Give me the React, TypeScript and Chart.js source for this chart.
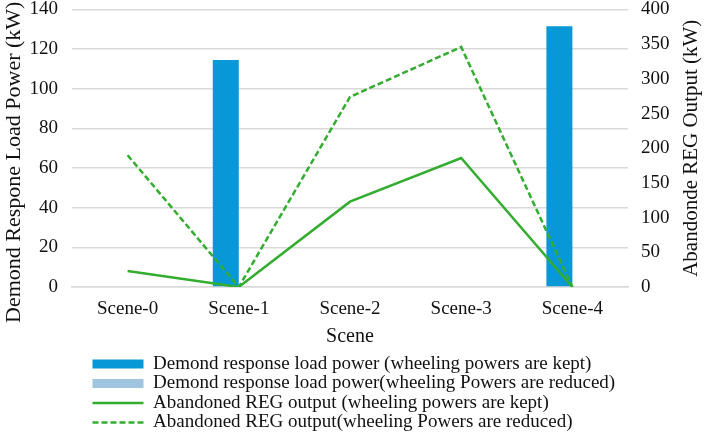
import React, { useEffect, useRef } from 'react';
import { Chart, registerables } from 'chart.js';

Chart.register(...registerables);

const categories = ['Scene-0', 'Scene-1', 'Scene-2', 'Scene-3', 'Scene-4'];
const loadKept = [0, 114.5, 0, 0, 131.5];
const loadReduced = [0, 0, 0, 0, 0];
const abandonedKept = [23, 0, 123, 186, 0];
const abandonedReduced = [190, 0, 274, 346, 0];

const leftTicks = [0, 20, 40, 60, 80, 100, 120, 140];
const rightTicks = [0, 50, 100, 150, 200, 250, 300, 350, 400];

const leftTitle = 'Demond Respone Load Power (kW)';
const rightTitle = 'Abandonde REG Output (kW)';
const xTitle = 'Scene';

const FONT = "'Liberation Serif', 'Times New Roman', serif";
const TEXT = '#111111';

// nudges the legend rows so they line up under the plot like the original
const legendShift = {
    id: 'legendShift',
    afterLayout(chart: any) {
        if (chart.legend) {
            chart.legend.left += 92;
        }
    },
};

// both y titles read bottom-to-top, chart.js flips the right one, so draw them here
const axisTitles = {
    id: 'axisTitles',
    afterDraw(chart: any) {
        const c = chart.ctx;
        const draw = (text: string, x: number, y: number, size: number) => {
            c.save();
            c.translate(x, y);
            c.rotate(-Math.PI / 2);
            c.font = `${size}px ${FONT}`;
            c.fillStyle = TEXT;
            c.textAlign = 'center';
            c.textBaseline = 'middle';
            c.fillText(text, 0, 0);
            c.restore();
        };
        const area = chart.chartArea;
        draw(leftTitle, 14, (area.top + area.bottom) / 2 + 14, 22);
        draw(rightTitle, chart.width - 15, (area.top + area.bottom) / 2, 21);
    },
};

const App: React.FC = () => {
    const chartRef = useRef<HTMLCanvasElement | null>(null);

    useEffect(() => {
        document.body.style.margin = '0';
        if (!chartRef.current) return;
        const ctx = chartRef.current.getContext('2d');
        if (!ctx) return;

        const myChart = new Chart(ctx, {
            type: 'bar',
            data: {
                labels: categories,
                datasets: [
                    {
                        type: 'bar',
                        label: 'Demond response load power (wheeling powers are kept)',
                        data: loadKept,
                        backgroundColor: '#0898d8',
                        borderWidth: 0,
                        yAxisID: 'y',
                        order: 1,
                    },
                    {
                        type: 'bar',
                        label: 'Demond response load power(wheeling Powers are reduced)',
                        data: loadReduced,
                        backgroundColor: '#9ec4e0',
                        borderWidth: 0,
                        yAxisID: 'y',
                        order: 1,
                    },
                    {
                        type: 'line',
                        label: 'Abandoned REG output (wheeling powers are kept)',
                        data: abandonedKept,
                        borderColor: '#33ad2f',
                        borderWidth: 2.5,
                        pointRadius: 0,
                        tension: 0,
                        yAxisID: 'y1',
                        order: 0,
                    },
                    {
                        type: 'line',
                        label: 'Abandoned REG output(wheeling Powers are reduced)',
                        data: abandonedReduced,
                        borderColor: '#33ad2f',
                        borderWidth: 2.5,
                        borderDash: [6, 3],
                        pointRadius: 0,
                        tension: 0,
                        yAxisID: 'y1',
                        order: 0,
                    },
                ] as any,
            },
            options: {
                animation: false,
                responsive: false,
                layout: { padding: { top: 0, bottom: -7 } },
                datasets: {
                    bar: { barPercentage: 1, categoryPercentage: 0.468 },
                },
                scales: {
                    x: {
                        grid: { display: false, drawTicks: false },
                        border: { display: true, color: '#d9d9d9', width: 1.5 },
                        ticks: {
                            color: TEXT,
                            font: { family: FONT, size: 19, lineHeight: 1 },
                            padding: 13,
                        },
                        title: {
                            display: true,
                            text: xTitle,
                            color: TEXT,
                            font: { family: FONT, size: 20 },
                            padding: { top: -7, bottom: 5 },
                        },
                    },
                    y: {
                        position: 'left',
                        min: 0,
                        max: 140,
                        afterBuildTicks: (scale: any) => {
                            scale.ticks = leftTicks.map((v) => ({ value: v }));
                        },
                        afterFit: (scale: any) => {
                            scale.width = 72;
                        },
                        grid: {
                            color: '#d9d9d9',
                            lineWidth: 1.5,
                            drawTicks: true,
                            tickLength: 14,
                            tickColor: 'rgba(0,0,0,0)',
                        },
                        border: { display: false },
                        ticks: {
                            color: TEXT,
                            font: { family: FONT, size: 19, lineHeight: 1 },
                            padding: 0,
                        },
                    },
                    y1: {
                        position: 'right',
                        min: 0,
                        max: 400,
                        afterBuildTicks: (scale: any) => {
                            scale.ticks = rightTicks.map((v) => ({ value: v }));
                        },
                        afterFit: (scale: any) => {
                            scale.width = 78;
                        },
                        grid: {
                            display: true,
                            drawOnChartArea: false,
                            drawTicks: true,
                            tickLength: 13,
                            tickColor: 'rgba(0,0,0,0)',
                        },
                        border: { display: false },
                        ticks: {
                            color: TEXT,
                            font: { family: FONT, size: 19, lineHeight: 1 },
                            padding: 0,
                        },
                    },
                },
                plugins: {
                    tooltip: { enabled: false },
                    legend: {
                        position: 'bottom',
                        align: 'start',
                        labels: {
                            color: TEXT,
                            font: { family: FONT, size: 19 },
                            usePointStyle: true,
                            pointStyleWidth: 51,
                            boxHeight: 9,
                            padding: 0.5,
                            generateLabels: (chart: any) =>
                                chart.data.datasets.map((ds: any, i: number) => ({
                                    text: ds.label,
                                    datasetIndex: i,
                                    fillStyle: ds.type === 'line' ? 'rgba(0,0,0,0)' : ds.backgroundColor,
                                    strokeStyle: ds.type === 'line' ? ds.borderColor : ds.backgroundColor,
                                    lineWidth: ds.type === 'line' ? 2.5 : 0,
                                    lineDash: ds.borderDash || [],
                                    pointStyle: ds.type === 'line' ? 'line' : 'rect',
                                    hidden: false,
                                    fontColor: TEXT,
                                })),
                        },
                    },
                },
            },
            plugins: [legendShift, axisTitles],
        });

        return () => {
            myChart.destroy();
        };
    }, []);

    return <canvas ref={chartRef} width="706" height="435" style={{ display: 'block' }} />;
};

export default App;
